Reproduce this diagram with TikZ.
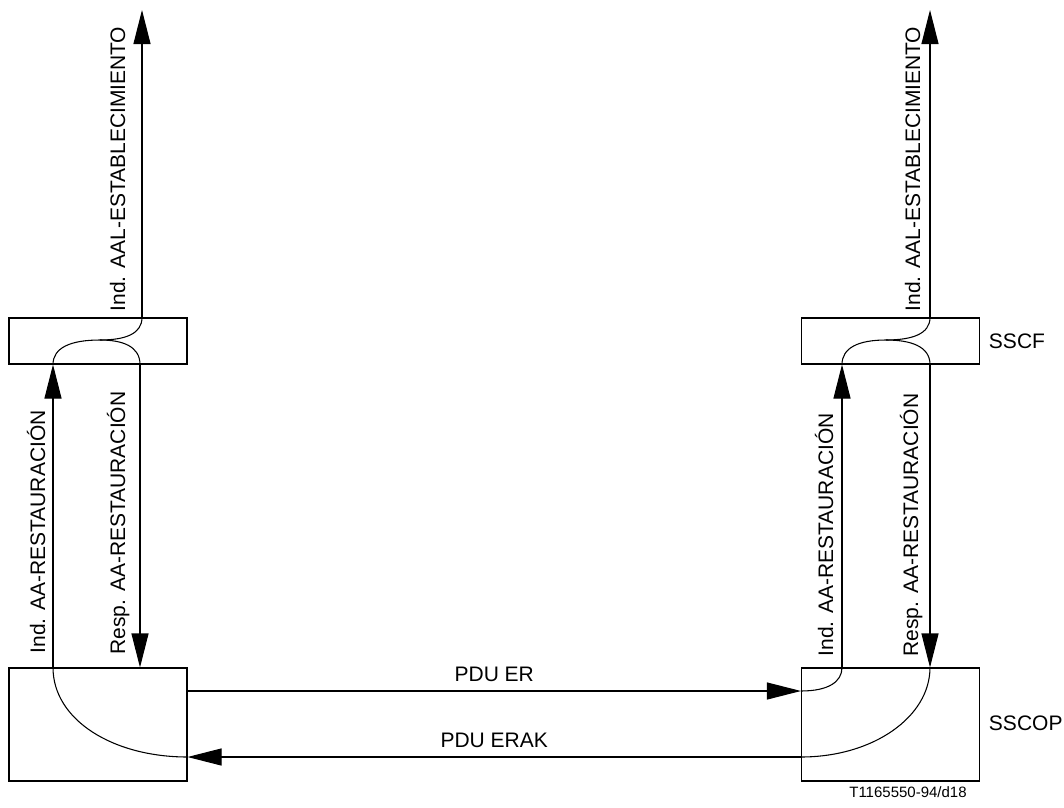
\documentclass[tikz,border=0pt]{standalone}
\usepackage{fontspec}
\setmainfont{Liberation Sans}
\usetikzlibrary{positioning,arrows.meta}

\begin{document}
\begin{tikzpicture}[x=0.75pt,y=-0.75pt,line width=0.8pt,
        font=\fontsize{15.75}{19}\selectfont,
        caja/.style={draw,inner sep=0,minimum width=133.5pt},
        cf/.style={caja,minimum height=34.5pt},
        cop/.style={caja,minimum height=84.75pt},
        f/.style={-{Triangle[length=25.5pt,width=12.75pt]}},
        et/.style={rotate=90,anchor=base west,inner sep=0}]
        \useasboundingbox (0,0) rectangle (1064,807);
        % cajas
        \node[cf] (fL) at (98,341) {};
        \node[cf] (fR) at (890.5,341) {};
        \node[cop] (cL) at (98,724.5) {};
        \node[cop] (cR) at (890.5,724.5) {};
        \node[anchor=west] (nf) at (984,341) {SSCF};
        \node[anchor=west] (nc) at (984,723) {SSCOP};
        % columnas y filas
        \coordinate (iL) at (53,0);   \coordinate (sL) at (142,10);  \coordinate (rL) at (140,0);
        \coordinate (iR) at (842,0);  \coordinate (sR) at (930,10);  \coordinate (rR) at (930,0);
        \coordinate (er) at (0,691);  \coordinate (erak) at (0,757);
        \coordinate (mL) at (100,340); \coordinate (mR) at (886,340);
        % lado izquierdo
        \draw[f] (sL |- fL.north) -- (sL);
        \draw (iL |- fL.south) .. controls (53,348) and (70,340) .. (mL)
              .. controls (125,340) and (142,334) .. (sL |- fL.north);
        \draw (mL) .. controls (122,340) and (140,346) .. (rL |- fL.south);
        \draw[f] (iL |- cL.north) -- (iL |- fL.south);
        \draw[f] (rL |- fL.south) -- (rL |- cL.north);
        \draw (iL |- cL.north) .. controls (53,720) and (113,757) .. (cL.east |- erak);
        % lado derecho
        \draw[f] (sR |- fR.north) -- (sR);
        \draw (iR |- fR.south) .. controls (842,348) and (858,340) .. (mR)
              .. controls (912,340) and (930,334) .. (sR |- fR.north);
        \draw (mR) .. controls (910,340) and (930,346) .. (rR |- fR.south);
        \draw[f] (iR |- cR.north) -- (iR |- fR.south);
        \draw[f] (rR |- fR.south) -- (rR |- cR.north);
        \draw (iR |- cR.north) .. controls (842,682) and (828,691) .. (cR.west |- er);
        \draw (rR |- cR.north) .. controls (930,717) and (873,757) .. (cR.west |- erak);
        % PDU
        \draw[f] (cL.east |- er) -- node[above=3pt] (pe) {PDU ER} (cR.west |- er);
        \draw[f] (cR.west |- erak) -- node[above=3pt] (pk) {PDU ERAK} (cL.east |- erak);
        % textos verticales
        \node[et] (t1) at (125,312) {Ind. AAL-ESTABLECIMIENTO};
        \node[et] (t2) at (45,654) {Ind. AA-RESTAURACIÓN};
        \node[et] (t3) at (125,655) {Resp. AA-RESTAURACIÓN};
        \node[et] (t4) at (920,312) {Ind. AAL-ESTABLECIMIENTO};
        \node[et] (t5) at (833,657) {Ind. AA-RESTAURACIÓN};
        \node[et] (t6) at (918,657) {Resp. AA-RESTAURACIÓN};
        \node[font=\fontsize{11.25}{13}\selectfont] (cod) at (908,792) {T1165550-94/d18};
      \end{tikzpicture}
\end{document}
